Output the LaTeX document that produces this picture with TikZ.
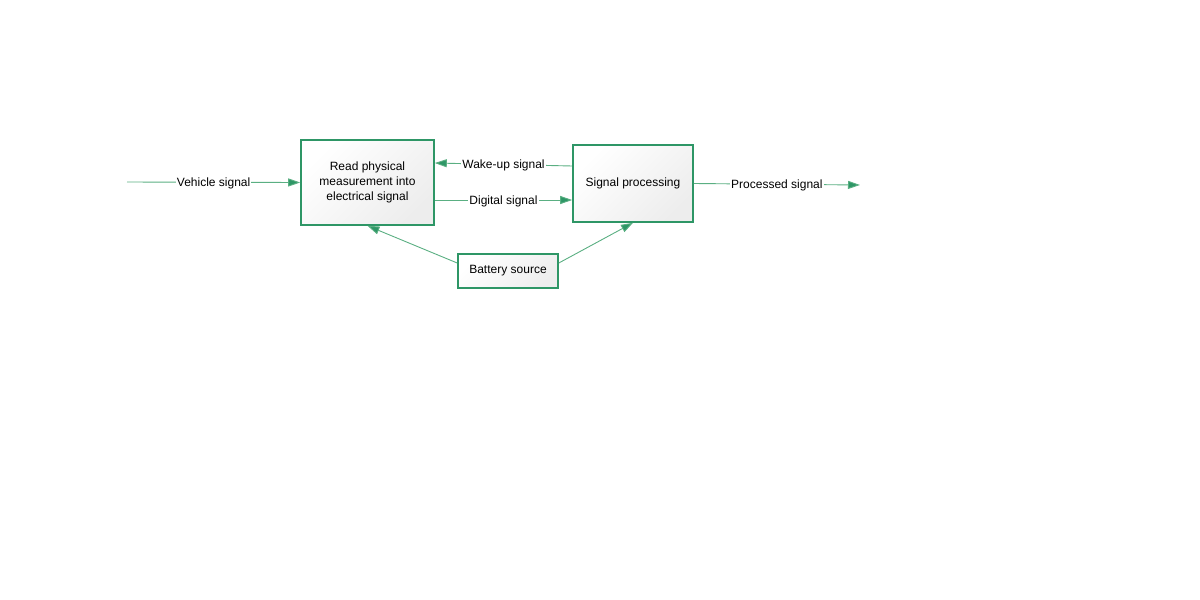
\documentclass[tikz,border=0pt]{standalone}
\usepackage{fontspec}
\setmainfont{Liberation Sans}
\usetikzlibrary{arrows.meta}
\definecolor{grn}{RGB}{46,150,102}
\definecolor{lgrn}{RGB}{90,175,130}
\tikzset{
  blk/.style={draw=grn, line width=1.6pt, shading=axis, left color=white, right color=black!7, shading angle=45, align=center, font=\fontsize{12}{15}\selectfont, inner sep=0pt},
  conn/.style={draw=lgrn, line width=0.9pt, -{Triangle[length=12pt,width=8pt,fill=grn]}},
  lbl/.style={fill=white, inner sep=1pt, font=\fontsize{12}{14}\selectfont, yshift=-1pt}
}
\begin{document}
\begin{tikzpicture}[x=1pt,y=-1pt]
\useasboundingbox (0,0) rectangle (1200,600);
\node[blk, minimum width=133pt, minimum height=85pt] (A) at (367.5,182.5) {Read physical\\measurement into\\electrical signal};
\node[blk, minimum width=120pt, minimum height=77pt] (B) at (633,183.5) {Signal processing};
\node[blk, minimum width=100pt, minimum height=34pt] (C) at (508,271) {Battery source};
\coordinate (vin) at (127,182);
\coordinate (pout) at (860,185);
\draw[conn] (vin) -- node[lbl]{Vehicle signal} (A.west);
\draw[conn] (B.west |- 0,166) -- node[lbl, pos=0.5]{Wake-up signal} (A.east |- 0,163);
\draw[conn] (A.east |- 0,200) -- node[lbl]{Digital signal} (B.west |- 0,200);
\draw[conn] (B.east) -- node[lbl, pos=0.5]{Processed signal} (pout);
\draw[conn] (C.west |- 0,263) -- (A.south);
\draw[conn] (C.east |- 0,263) -- (B.south);
\end{tikzpicture}
\end{document}
